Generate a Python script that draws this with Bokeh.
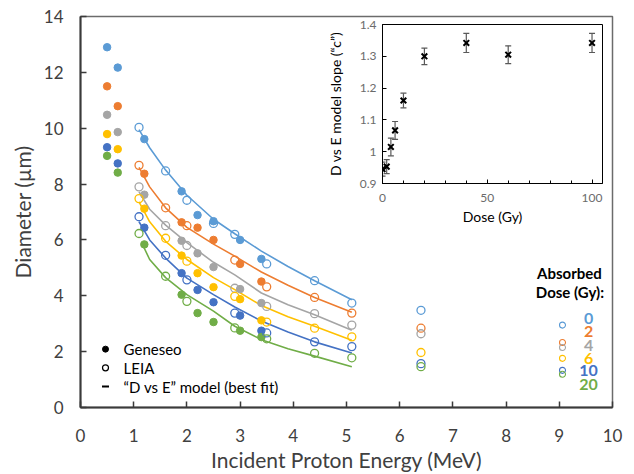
from bokeh.plotting import figure
from bokeh.models import (Range1d, FixedTicker, Label, ColumnDataSource, Whisker,
                          TeeHead, CustomJSTickFormatter)
from bokeh.layouts import column
from bokeh.embed import file_html
from bokeh.resources import INLINE

FONT = "Lato"

# ---------------- data ----------------
dose_labels = ["0", "2", "4", "6", "10", "20"]
dose_colors = ["#5B9BD5", "#ED7D31", "#A5A5A5", "#FFC000", "#4472C4", "#70AD47"]

# Geneseo (filled)
gen_energy = [0.5, 0.7, 1.2, 1.9, 2.2, 2.5, 3.0, 3.4]
gen_d0 = [12.9, 12.17, 9.61, 7.74, 6.89, 6.67, 6.0, 5.32]
gen_d2 = [11.5, 10.79, 8.37, 6.63, 6.44, 6.0, 5.14, 4.51]
gen_d4 = [10.48, 9.86, 7.62, 5.97, 5.52, 5.03, 4.24, 3.74]
gen_d6 = [9.79, 9.25, 7.12, 5.44, 4.81, 4.31, 3.88, 3.12]
gen_d10 = [9.32, 8.74, 6.44, 4.81, 4.21, 3.77, 3.29, 2.75]
gen_d20 = [9.01, 8.41, 5.84, 4.04, 3.38, 3.06, 2.75, 2.52]

# LEIA (open)
leia_energy_d0 = [1.1, 1.6, 2.0, 2.5, 2.9, 3.5, 4.4, 5.1, 6.4]
leia_energy = [1.1, 1.6, 2.0, 2.9, 3.5, 4.4, 5.1, 6.4]
leia_d0 = [10.03, 8.47, 7.42, 6.59, 6.20, 5.14, 4.54, 3.74, 3.48]
leia_d2 = [8.67, 7.15, 6.51, 5.28, 4.32, 3.94, 3.38, 2.84]
leia_d4 = [7.90, 6.51, 5.80, 4.27, 3.62, 3.36, 2.95, 2.64]
leia_d6 = [7.48, 6.06, 5.24, 3.98, 3.06, 2.84, 2.53, 1.97]
leia_d10 = [6.83, 5.45, 4.57, 3.38, 2.67, 2.35, 2.18, 1.57]
leia_d20 = [6.23, 4.70, 3.80, 2.85, 2.46, 1.94, 1.78, 1.46]

# "D vs E" model best-fit curves
fit_energy = [1.1, 1.3, 1.6, 2.0, 2.5, 2.9, 3.4, 3.9, 4.4, 5.1]
fit_energy_d20 = [1.15, 1.3, 1.6, 2.0, 2.5, 2.9, 3.4, 3.9, 4.4, 5.1]
fit_d0 = [9.95, 9.3, 8.5, 7.6, 6.74, 6.22, 5.6, 5.05, 4.54, 3.86]
fit_d2 = [8.6, 7.9, 7.15, 6.45, 5.85, 5.42, 4.85, 4.38, 3.94, 3.41]
fit_d4 = [7.72, 7.1, 6.53, 5.9, 5.2, 4.75, 4.1, 3.68, 3.32, 2.77]
fit_d6 = [7.36, 6.65, 5.95, 5.3, 4.65, 4.22, 3.65, 3.25, 2.91, 2.41]
fit_d10 = [6.65, 6.0, 5.35, 4.63, 4.04, 3.6, 3.1, 2.7, 2.35, 1.95]
fit_d20 = [5.9, 5.3, 4.65, 4.04, 3.45, 2.91, 2.43, 2.1, 1.84, 1.46]

# inset: model slope c vs dose
inset_dose = [0, 2, 4, 6, 10, 20, 40, 60, 100]
inset_c = [0.945, 0.953, 1.015, 1.067, 1.161, 1.300, 1.342, 1.305, 1.342]
inset_err = [0.022, 0.022, 0.028, 0.028, 0.023, 0.026, 0.030, 0.028, 0.030]

x_ticks = [0, 1, 2, 3, 4, 5, 6, 7, 8, 9, 10]
y_ticks = [0, 2, 4, 6, 8, 10, 12, 14]

gen_series = [gen_d0, gen_d2, gen_d4, gen_d6, gen_d10, gen_d20]
leia_series = [leia_d0, leia_d2, leia_d4, leia_d6, leia_d10, leia_d20]
leia_x = [leia_energy_d0] + [leia_energy] * 5
fit_series = [fit_d0, fit_d2, fit_d4, fit_d6, fit_d10, fit_d20]
fit_x = [fit_energy] * 5 + [fit_energy_d20]

# ---------------- main figure ----------------
BL, BR = 80, 22   # left / right borders (shared by both figures of the column)
p = figure(width=634, height=474, x_range=Range1d(0, 10), y_range=Range1d(0, 14),
           output_backend="svg", toolbar_location=None,
           min_border_left=BL, min_border_right=BR, min_border_top=16, min_border_bottom=64)
p.grid.visible = False
p.outline_line_color = "#6b6b6b"
p.outline_line_width = 1.5
p.background_fill_color = "white"
p.border_fill_color = "white"

p.xaxis.ticker = FixedTicker(ticks=x_ticks)
p.yaxis.ticker = FixedTicker(ticks=y_ticks)
for ax in (p.xaxis[0], p.yaxis[0]):
    ax.major_tick_in = 6
    ax.major_tick_out = 0
    ax.minor_tick_in = 0
    ax.minor_tick_out = 0
    ax.axis_line_color = "#3a3a3a"
    ax.axis_line_width = 2
    ax.major_tick_line_color = "#3a3a3a"
    ax.major_tick_line_width = 1.5
    ax.major_label_text_font = FONT
    ax.major_label_text_font_size = "17px"
    ax.major_label_text_color = "#404040"
    ax.axis_label_text_font = FONT
    ax.axis_label_text_font_size = "21px"
    ax.axis_label_text_font_style = "normal"
    ax.axis_label_text_color = "#404040"
p.xaxis.axis_label = "Incident Proton Energy (MeV)"
p.yaxis.axis_label = "Diameter (µm)"
p.xaxis.major_label_standoff = 21
p.xaxis.axis_label_standoff = 2
p.yaxis.major_label_standoff = 17
p.yaxis.axis_label_standoff = 6

for fx, fy, col in zip(fit_x, fit_series, dose_colors):
    p.line(fx, fy, line_color=col, line_width=1.6)
for gy, col in zip(gen_series, dose_colors):
    p.scatter(gen_energy, gy, marker="circle", size=7.5, fill_color=col, line_color=col)
for lx, ly, col in zip(leia_x, leia_series, dose_colors):
    p.scatter(lx, ly, marker="circle", size=8, fill_color=None, line_color=col, line_width=1.3)

# bottom-left legend
leg_x_marker = 0.47
leg_x_text = 0.81
leg_y = [2.09, 1.42, 0.75]
p.scatter([leg_x_marker], [leg_y[0]], marker="circle", size=6, fill_color="black", line_color="black")
p.scatter([leg_x_marker], [leg_y[1]], marker="circle", size=6, fill_color=None, line_color="black", line_width=1.2)
p.scatter([leg_x_marker], [leg_y[2]], marker="dash", size=7, line_color="black", line_width=2)
for txt, yy in zip(["Geneseo", "LEIA", "\u201cD vs E\u201d model (best fit)"], leg_y):
    p.add_layout(Label(x=leg_x_text, y=yy, text=txt, text_font=FONT, text_font_size="15px",
                       text_color="black", text_baseline="middle", text_align="left"))

# right legend: absorbed dose
p.add_layout(Label(x=9.19, y=4.80, text="Absorbed", text_font=FONT, text_font_size="15px",
                   text_font_style="bold", text_color="black", text_align="center", text_baseline="middle"))
p.add_layout(Label(x=9.2, y=4.15, text="Dose (Gy):", text_font=FONT, text_font_size="15px",
                   text_font_style="bold", text_color="black", text_align="center", text_baseline="middle"))
key_marker_x = 9.06
key_marker_y = [2.95, 2.33, 2.15, 1.76, 1.33, 1.19]
key_text_x = 9.55
key_text_y = [3.20, 2.71, 2.22, 1.76, 1.31, 0.81]
for lab, col, my, ty in zip(dose_labels, dose_colors, key_marker_y, key_text_y):
    p.scatter([key_marker_x], [my], marker="circle", size=6, fill_color=None, line_color=col, line_width=1.1)
    p.add_layout(Label(x=key_text_x, y=ty, text=lab, text_font=FONT, text_font_size="16px",
                       text_font_style="bold", text_color=col, text_align="center", text_baseline="middle"))

# ---------------- inset ----------------
IN_TOP, IN_BOTTOM = 10, 50
ip = figure(width=BL + 220 + BR, height=IN_TOP + 159 + IN_BOTTOM,
            x_range=Range1d(0, 105), y_range=Range1d(0.9, 1.4),
            output_backend="svg", toolbar_location=None,
            min_border_left=BL, min_border_right=BR,
            min_border_top=IN_TOP, min_border_bottom=IN_BOTTOM)
ip.grid.visible = False
ip.outline_line_color = "black"
ip.outline_line_width = 1
ip.background_fill_color = "white"
ip.border_fill_alpha = 0
ip.xaxis.ticker = FixedTicker(ticks=[0, 50, 100], minor_ticks=[10, 20, 30, 40, 60, 70, 80, 90])
ip.yaxis.ticker = FixedTicker(ticks=[0.9, 1.0, 1.1, 1.2, 1.3, 1.4])
ip.yaxis.formatter = CustomJSTickFormatter(code="return tick.toFixed(1).replace(/\\.0$/, '');")
for ax in (ip.xaxis[0], ip.yaxis[0]):
    ax.major_tick_in = 4
    ax.major_tick_out = 0
    ax.minor_tick_in = 3
    ax.minor_tick_out = 0
    ax.axis_line_color = "black"
    ax.major_tick_line_color = "black"
    ax.minor_tick_line_color = "black"
    ax.major_label_text_font = FONT
    ax.major_label_text_font_size = "12px"
    ax.major_label_text_color = "#6b6b6b"
    ax.axis_label_text_font = FONT
    ax.axis_label_text_font_size = "14px"
    ax.axis_label_text_font_style = "normal"
    ax.axis_label_text_color = "black"
ip.yaxis.minor_tick_in = 0
ip.xaxis.axis_label = "Dose (Gy)"
ip.yaxis.axis_label = "D vs E model slope (\u201cc\u201d)"
ip.xaxis.major_label_standoff = 10
ip.xaxis.axis_label_standoff = 3
ip.yaxis.major_label_standoff = 6
ip.yaxis.axis_label_standoff = 13

src = ColumnDataSource(dict(dose=inset_dose, c=inset_c,
                            upper=[c + e for c, e in zip(inset_c, inset_err)],
                            lower=[c - e for c, e in zip(inset_c, inset_err)]))
ip.add_layout(Whisker(source=src, base="dose", upper="upper", lower="lower",
                      line_color="#595959", line_width=1.2,
                      upper_head=TeeHead(size=6, line_color="#595959", line_width=1.2),
                      lower_head=TeeHead(size=6, line_color="#595959", line_width=1.2)))
ip.scatter("dose", "c", source=src, marker="x", size=8, line_color="black", line_width=2)

# overlay the inset onto the main chart: inset frame at page (382, 24)
ip.margin = (24 - IN_TOP - 474, 0, 0, 382 - BL)

layout = column(p, ip)
open("out.html", "w").write(file_html(layout, INLINE))
